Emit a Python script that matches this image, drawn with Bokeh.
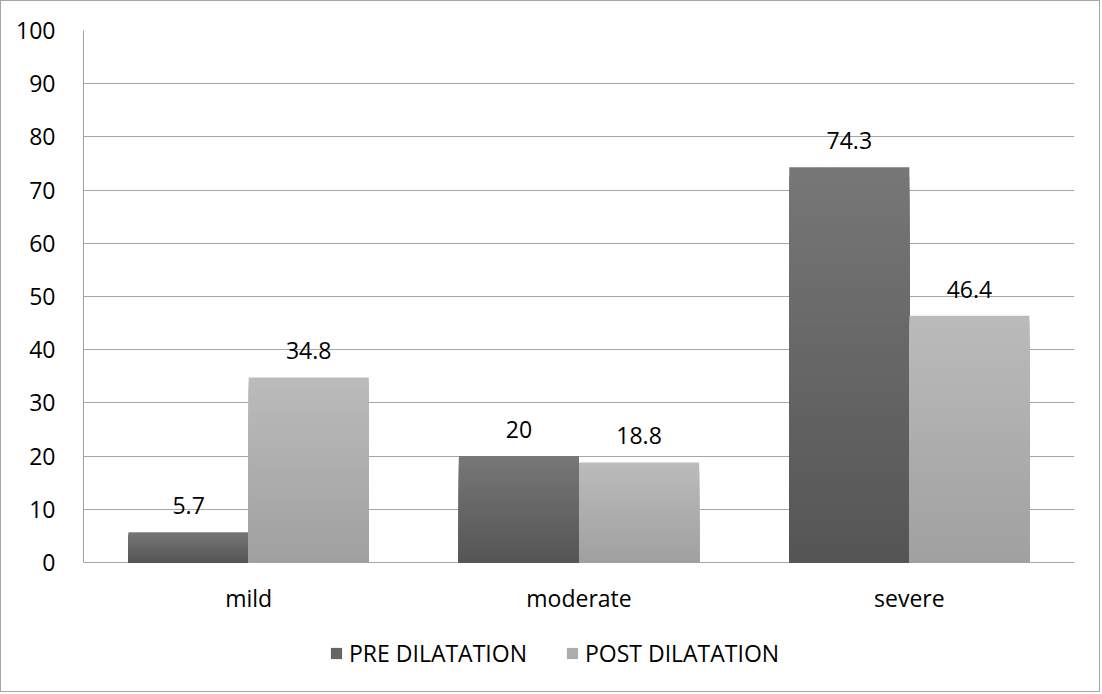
from bokeh.plotting import figure
from bokeh.models import ColumnDataSource, Legend, LegendItem, FixedTicker, Grid
from bokeh.transform import dodge
from bokeh.core.properties import value
from bokeh.embed import file_html
from bokeh.resources import INLINE

categories = ["mild", "moderate", "severe"]
pre_values = [5.7, 20, 74.3]
post_values = [34.8, 18.8, 46.4]
series_names = ["PRE DILATATION", "POST DILATATION"]
y_ticks = [0, 10, 20, 30, 40, 50, 60, 70, 80, 90, 100]

FONT = "Open Sans"
FS = "23px"

# top / bottom shades of each series' vertical gradient
pre_shades = ((0x77, 0x77, 0x77), (0x55, 0x55, 0x55))
post_shades = ((0xBB, 0xBB, 0xBB), (0xA0, 0xA0, 0xA0))
STEPS = 40

# the frame runs down to the bottom edge so the category labels and the
# legend can sit inside it; this is how far below 0 it reaches
Y_BELOW = -24.62


def hexcol(rgb):
    return "#%02x%02x%02x" % tuple(int(round(c)) for c in rgb)


def gradient_source(values, shades):
    # Nested bars, tallest first, each one a shade darker than the one
    # behind it, so the stack reads as a smooth top-to-bottom gradient.
    top, bottom = shades
    cats, t, cols = [], [], []
    for k in range(STEPS, 0, -1):
        f = (k - 0.5) / STEPS
        col = hexcol([bottom[c] + (top[c] - bottom[c]) * f for c in range(3)])
        for cat, v in zip(categories, values):
            cats.append(cat)
            t.append(v * k / STEPS)
            cols.append(col)
    return ColumnDataSource(dict(cat=cats, top=t, color=cols))


p = figure(
    x_range=categories, y_range=(Y_BELOW, 100),
    width=1100, height=692,
    output_backend="svg", toolbar_location=None,
    x_axis_location=None,
    min_border_left=82, min_border_right=27,
    min_border_top=29, min_border_bottom=0,
)
p.styles = {"border": "1px solid #a6a6a6"}
p.outline_line_color = None
p.background_fill_color = "white"
p.border_fill_color = "white"

bar_w = 0.3636
offset = 0.1818

src_pre = gradient_source(pre_values, pre_shades)
src_post = gradient_source(post_values, post_shades)

r_pre = p.vbar(x=dodge("cat", -offset, range=p.x_range), bottom=0, top="top",
               width=bar_w, source=src_pre, fill_color="color", line_color=None)
r_post = p.vbar(x=dodge("cat", offset, range=p.x_range), bottom=0, top="top",
                width=bar_w, source=src_post, fill_color="color", line_color=None)

# value labels above bars
lab_pre = ColumnDataSource(dict(cat=categories, v=pre_values,
                                t=[("%g" % v) for v in pre_values]))
lab_post = ColumnDataSource(dict(cat=categories, v=post_values,
                                 t=[("%g" % v) for v in post_values]))
for src, off in ((lab_pre, -offset), (lab_post, offset)):
    p.text(x=dodge("cat", off, range=p.x_range), y="v", text="t", source=src,
           text_align="center", text_baseline="bottom", y_offset=-18,
           text_font=value(FONT), text_font_size=value(FS), text_color="black")

# category labels under the baseline
cat_src = ColumnDataSource(dict(cat=categories, y=[0] * len(categories)))
p.text(x="cat", y="y", text="cat", source=cat_src,
       text_align="center", text_baseline="middle", y_offset=35,
       text_font=value(FONT), text_font_size=value(FS), text_color="black")

# y axis
p.yaxis.ticker = FixedTicker(ticks=y_ticks)
p.yaxis.bounds = (0, 100)
p.yaxis.major_tick_line_color = None
p.yaxis.minor_tick_line_color = None
p.yaxis.axis_line_color = "#a0a0a0"
p.yaxis.major_label_standoff = 22
p.yaxis.major_label_text_font = FONT
p.yaxis.major_label_text_font_size = FS
p.yaxis.major_label_text_color = "black"

for g in p.select(type=Grid):
    if g.dimension == 0:
        g.visible = False
    else:
        g.ticker = FixedTicker(ticks=y_ticks)
        g.grid_line_color = "#a6a6a6"
        g.grid_line_width = 1

legend = Legend(
    items=[LegendItem(label=series_names[0], renderers=[r_pre], index=STEPS * 3 // 2),
           LegendItem(label=series_names[1], renderers=[r_post], index=STEPS * 3 // 2)],
    orientation="horizontal", location=(246, 24),
    label_text_font=FONT, label_text_font_size=FS, label_text_color="black",
    glyph_width=14, glyph_height=14, label_standoff=6, spacing=38,
    border_line_color=None, background_fill_alpha=0, padding=0, margin=0,
)
p.add_layout(legend, "center")

open("out.html", "w").write(file_html(p, INLINE))
